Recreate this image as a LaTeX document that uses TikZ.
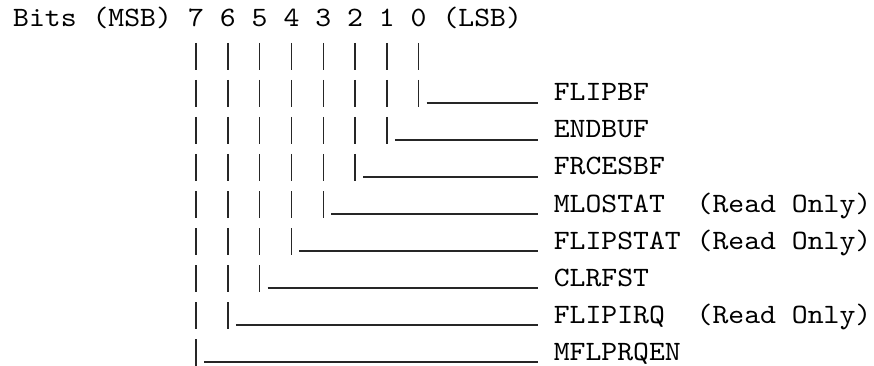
\documentclass[tikz,border=0pt]{standalone}
\usepackage{fontspec}
\setmonofont[FakeStretch=1.08]{lmmono10-regular.otf}

\tikzset{
    regtext/.style={font=\ttfamily\fontsize{28}{30}\selectfont, inner sep=0pt, anchor=base west},
    bitline/.style={line width=1.4pt, black!85},
}

\begin{document}
\begin{tikzpicture}[x=1pt, y=-1pt]
    \useasboundingbox (0,0) rectangle (874,366);

    % Header: bit numbers
    \node[regtext] (msb) at (13,27) {Bits (MSB)};
    \foreach \b in {7,...,0} {
        \node[regtext] (b\b) at ({13+(25-2*\b)*15.9},27) {\b};
    }
    \node[regtext] (lsb) at ({13+27*15.9},27) {(LSB)};

    % Field names, one row per bit
    \foreach \b/\name in {0/FLIPBF, 1/ENDBUF, 2/FRCESBF, 3/MLOSTAT\ \ (Read Only),
                          4/FLIPSTAT (Read Only), 5/CLRFST, 6/FLIPIRQ\ \ (Read Only), 7/MFLPRQEN} {
        \node[regtext] (f\b) at ({13+34*15.9},{27+37*(\b+2)}) {\name};
    }

    % Bars down from each bit, then across to its name
    \foreach \b in {0,...,7} {
        \pgfmathtruncatemacro\last{\b+2}
        \foreach \r in {1,...,\last} {
            \pgfmathsetmacro\ytop{27+37*\r-21}
            \pgfmathsetmacro\ybot{27+37*\r+6}
            \draw[bitline] (b\b.base |- 0,\ytop) -- (b\b.base |- 0,\ybot);
        }
        \pgfmathsetmacro\yline{27+37*\last+2}
        \coordinate (c\b) at (b\b.base |- 0,\yline);
        \draw[bitline, shorten <=8pt, shorten >=15.9pt] (c\b) -- (c\b -| f\b.west);
    }
\end{tikzpicture}
\end{document}
